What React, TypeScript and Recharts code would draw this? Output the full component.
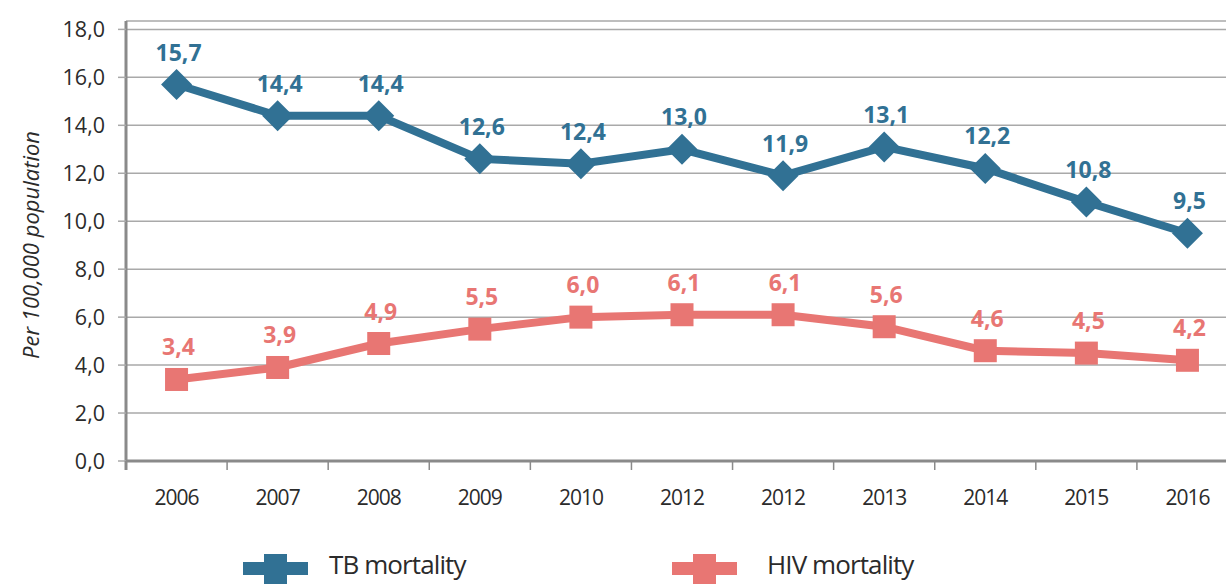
import React from "react"
import { LineChart, Line, XAxis, YAxis, CartesianGrid, LabelList, Legend } from "recharts"

const years = ["2006", "2007", "2008", "2009", "2010", "2012", "2012", "2013", "2014", "2015", "2016"]
const tbMortality = [15.7, 14.4, 14.4, 12.6, 12.4, 13.0, 11.9, 13.1, 12.2, 10.8, 9.5]
const hivMortality = [3.4, 3.9, 4.9, 5.5, 6.0, 6.1, 6.1, 5.6, 4.6, 4.5, 4.2]
const yTicks = [0, 2, 4, 6, 8, 10, 12, 14, 16, 18]

const TB_COLOR = "#317194"
const HIV_COLOR = "#e87673"
const GRID = "#a9a9a9"
const AXIS = "#8a8a8a"
const TEXT = "#2b2b2b"

const CHART_W = 1238
const CHART_H = 585
const Y_AXIS_W = 126
const BAND = (CHART_W - Y_AXIS_W) / years.length

const data = years.map((year, i) => ({
  year,
  tb: tbMortality[i],
  hiv: hivMortality[i],
}))

const fmt = (v: number) => v.toFixed(1).replace(".", ",")

const DiamondDot = (props: any) => {
  const { cx, cy } = props
  if (cx == null || cy == null) return null
  const r = 15.5
  return (
    <path
      d={`M${cx},${cy - r} L${cx + r},${cy} L${cx},${cy + r} L${cx - r},${cy} Z`}
      fill={TB_COLOR}
    />
  )
}

const SquareDot = (props: any) => {
  const { cx, cy } = props
  if (cx == null || cy == null) return null
  const s = 23
  return <rect x={cx - s / 2} y={cy - s / 2} width={s} height={s} fill={HIV_COLOR} />
}

const makeLabel = (color: string) => (props: any) => {
  const { x, y, value } = props
  return (
    <text
      x={x + 2}
      y={y - 24}
      textAnchor="middle"
      fill={color}
      fontFamily="'Open Sans', sans-serif"
      fontWeight={700}
      fontSize={23}
    >
      {fmt(value)}
    </text>
  )
}

const XTick = (props: any) => {
  const { x, y, payload, index } = props
  const bx = x - BAND / 2
  return (
    <g>
      <line
        x1={bx}
        x2={bx}
        y1={y}
        y2={y + 9}
        stroke={AXIS}
        strokeWidth={index === 0 ? 3 : 1.5}
      />
      <text
        x={x}
        y={y + 44}
        textAnchor="middle"
        fill={TEXT}
        fontFamily="'Open Sans', sans-serif"
        fontSize={21}
        letterSpacing={-1}
      >
        {payload.value}
      </text>
    </g>
  )
}

const YLabel = () => (
  <text
    x={30}
    y={245}
    transform="rotate(-90 30 245)"
    textAnchor="middle"
    dominantBaseline="central"
    fill={TEXT}
    fontFamily="'Open Sans', sans-serif"
    fontStyle="italic"
    fontSize={22}
  >
    Per 100,000 population
  </text>
)

const legendItems = [
  { name: "TB mortality", color: TB_COLOR, left: 243, textLeft: 329 },
  { name: "HIV mortality", color: HIV_COLOR, left: 672, textLeft: 767 },
]

const LegendContent = () => (
  <div style={{ position: "relative", width: 1226, height: 36 }}>
    {legendItems.map((item) => (
      <React.Fragment key={item.name}>
        <div
          style={{
            position: "absolute",
            left: item.left,
            top: 14,
            width: 65,
            height: 13,
            background: item.color,
          }}
        />
        <div
          style={{
            position: "absolute",
            left: item.left + 21,
            top: 6,
            width: 23,
            height: 30,
            background: item.color,
          }}
        />
        <div
          style={{
            position: "absolute",
            left: item.textLeft,
            top: 1,
            fontFamily: "'Open Sans', sans-serif",
            fontSize: 26,
            letterSpacing: -0.9,
            color: TEXT,
            lineHeight: "30px",
            whiteSpace: "nowrap",
          }}
        >
          {item.name}
        </div>
      </React.Fragment>
    ))}
  </div>
)

export default function App() {
  return (
    <div
      style={{
        position: "absolute",
        left: 0,
        top: 0,
        width: 1226,
        height: 585,
        overflow: "hidden",
        background: "#ffffff",
      }}
    >
      <LineChart
        width={CHART_W}
        height={CHART_H}
        data={data}
        margin={{ top: 21, right: 0, bottom: 64, left: 0 }}
      >
        <CartesianGrid vertical={false} stroke={GRID} strokeWidth={1.5} />
        <XAxis
          dataKey="year"
          height={60}
          allowDuplicatedCategory={true}
          padding={{ left: BAND / 2, right: BAND / 2 }}
          axisLine={{ stroke: AXIS, strokeWidth: 3 }}
          tickLine={false}
          tickSize={0}
          tickMargin={0}
          interval={0}
          tick={<XTick />}
        />
        <YAxis
          width={Y_AXIS_W}
          domain={[0, 18.35]}
          ticks={yTicks}
          interval={0}
          axisLine={{ stroke: AXIS, strokeWidth: 3 }}
          tickLine={{ stroke: GRID, strokeWidth: 1.5 }}
          tickSize={8}
          tickMargin={13}
          tickFormatter={fmt}
          tick={{ fill: TEXT, fontFamily: "'Open Sans', sans-serif", fontSize: 21.5 }}
          label={<YLabel />}
        />
        <Line
          dataKey="tb"
          name="TB mortality"
          stroke={TB_COLOR}
          strokeWidth={8}
          dot={<DiamondDot />}
          activeDot={false}
          isAnimationActive={false}
        >
          <LabelList dataKey="tb" content={makeLabel(TB_COLOR)} />
        </Line>
        <Line
          dataKey="hiv"
          name="HIV mortality"
          stroke={HIV_COLOR}
          strokeWidth={8}
          dot={<SquareDot />}
          activeDot={false}
          isAnimationActive={false}
        >
          <LabelList dataKey="hiv" content={makeLabel(HIV_COLOR)} />
        </Line>
        <Legend
          layout="horizontal"
          verticalAlign="middle"
          align="center"
          content={<LegendContent />}
          wrapperStyle={{ top: 548, left: 0, width: 1226, height: 36 }}
        />
      </LineChart>
    </div>
  )
}
